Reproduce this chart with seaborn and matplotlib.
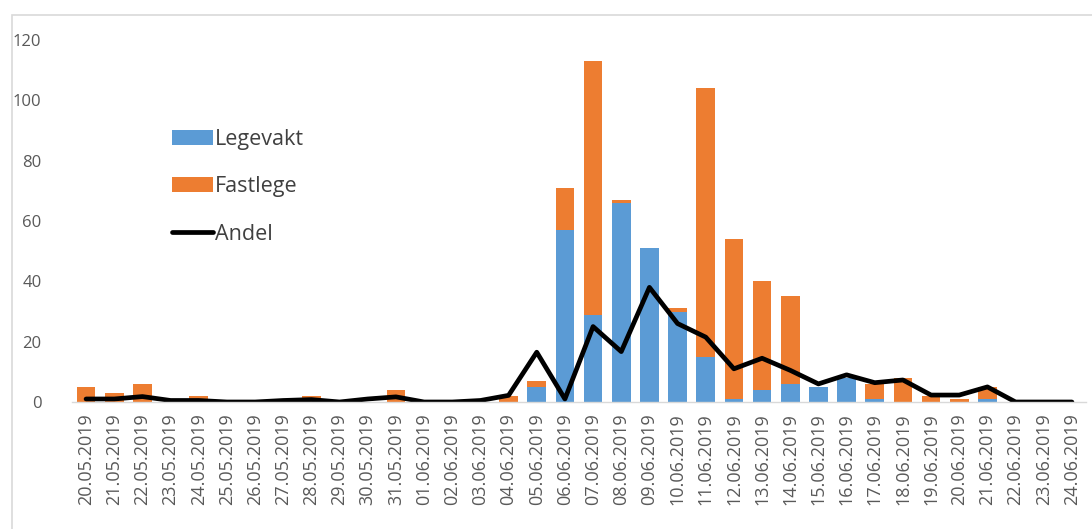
import numpy as np
import pandas as pd
import matplotlib
matplotlib.use("Agg")
import matplotlib.pyplot as plt
import seaborn as sns
from matplotlib.patches import Rectangle, Patch
from matplotlib.lines import Line2D

# Daily dates shown on the category axis
dates = [f"{d:02d}.05.2019" for d in range(20, 32)] + [f"{d:02d}.06.2019" for d in range(1, 25)]

# Consultations at the out-of-hours service (Legevakt)
legevakt = [0, 0, 0, 0, 0, 0, 0, 0, 0, 0, 0, 0,
            0, 0, 0, 0, 5, 57, 29, 66, 51, 30, 15, 1,
            4, 6, 5, 8, 1, 0, 0, 0, 1, 0, 0, 0]

# Consultations at the regular GP (Fastlege)
fastlege = [5, 3, 6, 0, 2, 0, 0, 0, 2, 0, 0, 4,
            0, 0, 0, 2, 2, 14, 84, 1, 0, 1, 89, 53,
            36, 29, 0, 0, 5, 8, 2, 1, 4, 0, 0, 0]

# Share (Andel) line
andel = [1, 1, 1.8, 0.5, 0.5, 0, 0, 0.5, 0.8, 0, 1, 1.7,
         0, 0, 0.5, 2.2, 16.5, 1, 25, 16.7, 38, 26, 21.5, 11,
         14.5, 10.5, 6, 9, 6.4, 7.3, 2.3, 2.3, 5, 0, 0, 0]

yticks = [0, 20, 40, 60, 80, 100, 120]

blue = "#5B9BD5"
orange = "#ED7D31"
gray_txt = "#595959"

df = pd.DataFrame({"dato": dates, "Legevakt": legevakt, "Fastlege": fastlege, "Andel": andel})
df["Total"] = df["Legevakt"] + df["Fastlege"]
df["pos"] = np.arange(len(df))

sns.set_style("white")
plt.rcParams["font.family"] = ["Open Sans", "DejaVu Sans"]

fig = plt.figure(figsize=(10.92, 5.29), dpi=100)
W, H = 1092, 529
ax = fig.add_axes([72 / W, (H - 402) / H, (1086 - 72) / W, (402 - 40) / H])

# Light frame around the chart area
fig.patches.append(Rectangle((12 / W, -0.1), 1.2, (H - 15) / H + 0.1,
                             transform=fig.transFigure, fill=False,
                             edgecolor="#d9d9d9", linewidth=1.2, zorder=0))

# Stacked bars: total in orange, Legevakt in blue on top of it from the base
sns.barplot(data=df, x="dato", y="Total", color=orange, width=0.66,
            saturation=1, ax=ax, order=dates, edgecolor="none", linewidth=0)
sns.barplot(data=df, x="dato", y="Legevakt", color=blue, width=0.66,
            saturation=1, ax=ax, order=dates, edgecolor="none", linewidth=0)
sns.lineplot(data=df, x="pos", y="Andel", color="black", linewidth=3.4,
             ax=ax, sort=False)

ax.set_xlim(-0.5, len(dates) - 0.5)
ax.set_ylim(0, 120)
ax.set_yticks(yticks)
ax.set_yticklabels([str(v) for v in yticks], fontsize=12, color=gray_txt)
ax.set_xticks(np.arange(len(dates)))
ax.set_xticklabels(dates, rotation=90, fontsize=13, color=gray_txt)
ax.set_xlabel("")
ax.set_ylabel("")

for s in ["top", "right", "left"]:
    ax.spines[s].set_visible(False)
ax.spines["bottom"].set_color("#d9d9d9")
ax.spines["bottom"].set_linewidth(1.0)

ax.tick_params(axis="y", length=0, pad=22)
ax.tick_params(axis="x", which="major", length=0, pad=8)
ax.set_xticks(np.arange(len(dates) + 1) - 0.5, minor=True)
ax.tick_params(axis="x", which="minor", length=5, color="#d9d9d9", width=1, direction="out")

handles = [Patch(facecolor=blue, edgecolor="none"),
           Patch(facecolor=orange, edgecolor="none"),
           Line2D([0], [0], color="black", linewidth=3.4)]
leg = ax.legend(handles, ["Legevakt", "Fastlege", "Andel"],
                loc="upper left", bbox_to_anchor=(172 / W, (H - 129) / H),
                bbox_transform=fig.transFigure, frameon=False,
                fontsize=15.5, handlelength=1.9, handleheight=0.72,
                handletextpad=0.1, labelspacing=1.22, borderpad=0,
                borderaxespad=0)
for t in leg.get_texts():
    t.set_color("#404040")

fig.savefig("out.png", dpi=100, facecolor="white")
